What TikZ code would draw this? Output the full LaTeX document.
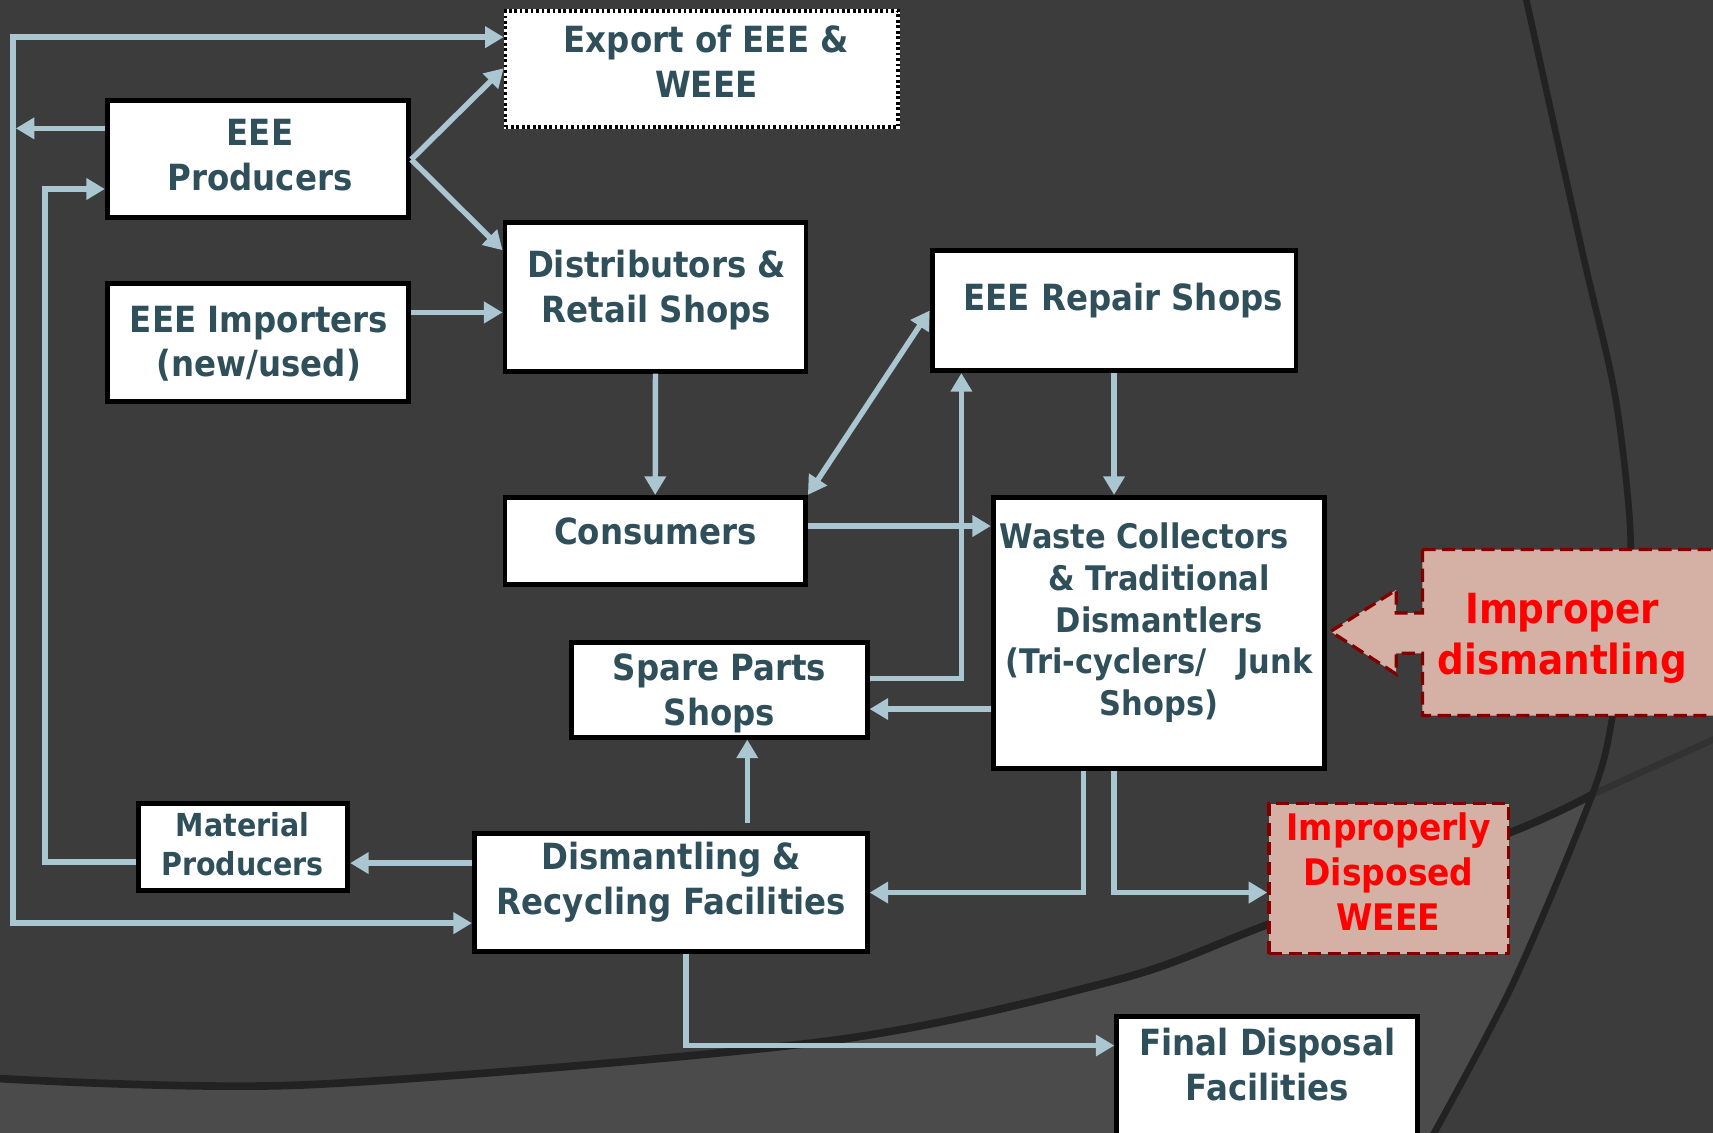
\documentclass[tikz,border=0pt]{standalone}
\usepackage{graphicx}
\usepackage{fontspec}
\setmainfont{DejaVu Sans}[FakeStretch=0.9]
\usetikzlibrary{arrows.meta}
\definecolor{bgdark}{HTML}{3C3C3C}
\definecolor{bglight}{HTML}{4B4B4B}
\definecolor{arcline}{HTML}{222222}
\definecolor{arcfaint}{HTML}{323232}
\definecolor{lblue}{RGB}{170,198,208}
\definecolor{tcol}{HTML}{2F4F5A}
\definecolor{calfill}{RGB}{212,177,164}
\definecolor{calborder}{HTML}{800000}
\newcommand{\mlines}[1]{\begin{tabular}[t]{@{}c@{}}#1\end{tabular}}
\begin{document}
\begin{tikzpicture}[x=1pt,y=-1pt,
  >={Triangle[length=17pt,width=19pt]},
  box/.style={draw=black, line width=4.5pt, fill=white, inner sep=0pt, anchor=north west},
  expbox/.style={draw=white, line width=3.5pt, fill=white, inner sep=0pt, anchor=north west,
     postaction={draw=black, line width=3.5pt, dash pattern=on 2.5pt off 2.5pt}},
  redbox/.style={fill=calfill, draw=calborder, line width=3pt, dash pattern=on 12pt off 6pt},
  conn/.style={draw=lblue, line width=5pt, ->},
  dconn/.style={draw=lblue, line width=5pt, <->},
  txt/.style={inner sep=0pt, anchor=base, text=tcol, font=\bfseries\fontsize{33}{41}\selectfont},
  rtxt/.style={inner sep=0pt, anchor=base, text=red, font=\bfseries\fontsize{33.5}{41.5}\selectfont},
]
\clip (0,0) rectangle (1568,1037);
% background
\fill[bgdark] (0,0) rectangle (1568,1037);
\fill[bglight] plot[smooth] coordinates {(-5,987) (280,993) (757,953) (1022,897) (1156,848) (1385,761) (1458,727)}
  -- plot[smooth] coordinates {(1458,726) (1385,900) (1312,1037) (1300,1050)} -- (-5,1050) -- cycle;
\draw[arcline, line width=7pt] plot[smooth] coordinates {(-5,987) (280,993) (757,953) (1022,897) (1156,848) (1385,761) (1458,727)};
\draw[arcfaint, line width=6pt] plot[smooth] coordinates {(1458,727) (1568,677) (1585,669)};
\draw[arcline, line width=6pt] plot[smooth] coordinates {(1396,-5) (1448,229) (1478,360) (1492,480) (1490,560) (1476,656) (1458,726) (1385,900) (1310,1042)};

% boxes
\node[expbox, minimum width=359.5, minimum height=106.5] (exp) at (461,8) {};
\node[box, minimum width=276, minimum height=107] (prod) at (96,90) {};
\node[box, minimum width=276, minimum height=108] (imp) at (96,257) {};
\node[box, minimum width=275.5, minimum height=136.5] (dist) at (460,201) {};
\node[box, minimum width=333, minimum height=110] (rep) at (851,227) {};
\node[box, minimum width=275, minimum height=79.5] (cons) at (460,453) {};
\node[box, minimum width=303.5, minimum height=248] (waste) at (907,453) {};
\node[box, minimum width=270.5, minimum height=87] (spare) at (521,585.5) {};
\node[box, minimum width=191.5, minimum height=80] (mat) at (124.5,733) {};
\node[box, minimum width=359.5, minimum height=107.5] (dis) at (432,761) {};
\node[box, minimum width=275, minimum height=150] (final) at (1020,928) {};
\node[redbox, anchor=north west, inner sep=0pt, minimum width=219.5, minimum height=137.5] (ipd) at (1160,734) {};
\draw[redbox] (1302,503) -- (1590,503) -- (1590,655) -- (1302,655) -- (1302,598) -- (1278,598)
  -- (1278,617) -- (1218,578) -- (1278,540) -- (1278,561) -- (1302,561) -- cycle;

% texts
\node[txt] (exp-t) at (646.5,48.5) {\mlines{Export of EEE \&\\WEEE}};
\node[txt] (prod-t) at (238,133) {\mlines{EEE\\Producers}};
\node[txt] (imp-t) at (237,304) {\mlines{EEE Importers\\(new/used)}};
\node[txt] (dist-t) at (601,254) {\mlines{Distributors \&\\Retail Shops}};
\node[txt] (rep-t) at (1028,284) {EEE Repair Shops};
\node[txt] (cons-t) at (600,498) {Consumers};
\node[txt, font=\bfseries\fontsize{31}{38.3}\selectfont] (waste-t) at (1061,502)
  {\mlines{Waste Collectors\hspace*{28pt}\\\& Traditional\\Dismantlers\\(Tri-cyclers/\hspace{28pt}Junk\\Shops)}};
\node[txt] (spare-t) at (658.5,623) {\mlines{Spare Parts\\Shops}};
\node[txt, font=\bfseries\fontsize{29}{35}\selectfont] (mat-t) at (222,766) {\mlines{Material\\Producers}};
\node[txt, font=\bfseries\fontsize{33}{41.5}\selectfont] (dis-t) at (614.5,795.5) {\mlines{Dismantling \&\\Recycling Facilities}};
\node[txt] (final-t) at (1160,966.5) {\mlines{Final Disposal\\Facilities}};
\node[rtxt] (ipd-t) at (1271,769) {\mlines{Improperly\\Disposed\\WEEE}};
\node[rtxt, font=\bfseries\fontsize{38}{46}\selectfont] (improper-t) at (1430,571) {\mlines{Improper\\dismantling}};

% connectors
\coordinate (L1) at (12,34);
\coordinate (L2) at (12,845);
\draw[dconn] (exp.west |- L1) -- (L1) -- (L2) -- (dis.west |- L2);
\coordinate (L3) at (14.5,117.5);
\draw[conn] (prod.west |- L3) -- (L3);
\coordinate (M1) at (41,789);
\coordinate (M2) at (41,173);
\draw[conn] (mat.west |- M1) -- (M1) -- (M2) -- (prod.west |- M2);
\coordinate (F) at (377,146);
\coordinate (E1) at (460,62.5);
\coordinate (E2) at (460,229);
\draw[conn] (prod.east |- F) -- (exp.west |- E1);
\draw[conn] (prod.east |- F) -- (dist.west |- E2);
\coordinate (I1) at (0,286);
\draw[conn] (imp.east |- I1) -- (dist.west |- I1);
\draw[conn] (dist.south) -- (cons.north);
\draw[dconn] (cons.north east) -- (rep.west);
\coordinate (W1) at (0,481.5);
\draw[conn] (cons.east |- W1) -- (waste.west |- W1);
\coordinate (S1) at (880,621);
\draw[conn] (spare.east |- S1) -- (S1) -- (rep.south -| S1);
\coordinate (W2) at (0,649);
\draw[conn] (waste.west |- W2) -- (spare.east |- W2);
\draw[conn] (rep.south) -- (waste.north -| rep.south);
\coordinate (D1) at (684,753);
\draw[conn] (D1) -- (spare.south -| D1);
\coordinate (Y1) at (0,790);
\draw[conn] (dis.west |- Y1) -- (mat.east |- Y1);
\coordinate (T1) at (992,817);
\draw[conn] (waste.south -| T1) -- (T1) -- (dis.east |- T1);
\coordinate (T2) at (1019.7,817);
\draw[conn] (waste.south -| T2) -- (T2) -- (ipd.west |- T2);
\coordinate (B1) at (628,957);
\draw[conn] (dis.south -| B1) -- (B1) -- (final.west |- B1);
\end{tikzpicture}
\end{document}
